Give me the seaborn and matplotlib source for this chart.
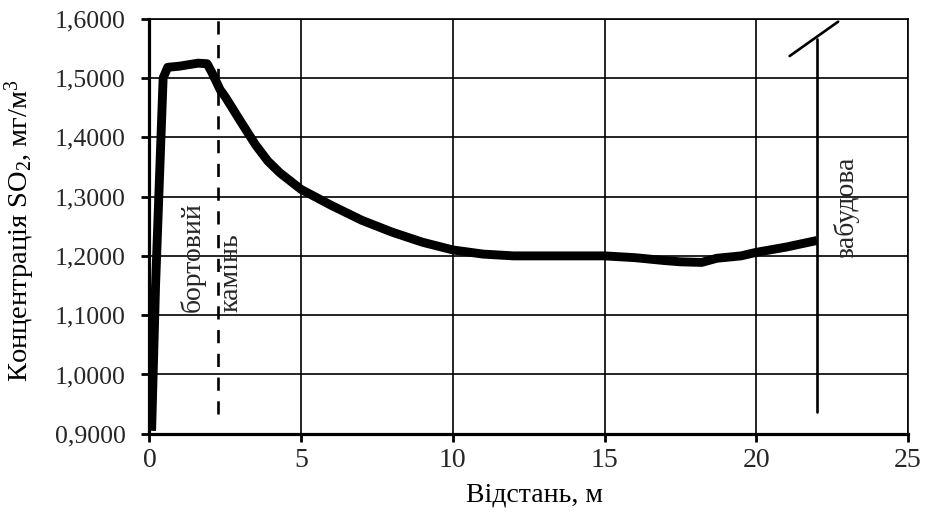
import matplotlib
matplotlib.use("Agg")
import matplotlib.pyplot as plt
from matplotlib.ticker import FuncFormatter
import seaborn as sns
import pandas as pd

# Distance from the road edge, m
distance = [0.07, 0.20, 0.45, 0.60, 1.00, 1.60, 1.90, 2.05, 2.33, 2.50,
            3.00, 3.50, 3.90, 4.30, 4.70, 5.00, 6.00, 7.00, 8.00, 9.00, 10.00,
            11.00, 12.00, 13.00, 14.00, 15.00, 16.00, 17.00, 17.50, 18.20,
            18.70, 19.50, 20.00, 21.00, 22.00]
# SO2 concentration, mg/m3
concentration = [0.905, 1.150, 1.500, 1.518, 1.520, 1.525, 1.524, 1.510,
                 1.480, 1.468, 1.427, 1.387, 1.360, 1.340, 1.324, 1.312, 1.285,
                 1.260, 1.240, 1.223, 1.210, 1.203, 1.200, 1.200, 1.200, 1.200,
                 1.197, 1.192, 1.190, 1.189, 1.196, 1.200, 1.206, 1.215, 1.226]

# Curb stone position and extent of the marker line
curb_x = 2.25
curb_y = [0.933, 1.6]
# Building line position, vertical extent and hatch stroke
building_x = 22.0
building_y = [0.936, 1.566]
hatch_x = [21.1, 22.7]
hatch_y = [1.537, 1.595]

x_ticks = [0, 5, 10, 15, 20, 25]
y_ticks = [0.9, 1.0, 1.1, 1.2, 1.3, 1.4, 1.5, 1.6]

sns.set_theme(style="white")
plt.rcParams["font.family"] = ["Liberation Serif", "DejaVu Serif"]
plt.rcParams["mathtext.fontset"] = "custom"
plt.rcParams["mathtext.rm"] = "Liberation Serif"
plt.rcParams["mathtext.it"] = "Liberation Serif:italic"

fig = plt.figure(figsize=(9.25, 5.22), dpi=100)
ax = fig.add_axes([0.1616, 0.169, 0.82, 0.7952])

df = pd.DataFrame({"x": distance, "y": concentration})
sns.lineplot(data=df, x="x", y="y", ax=ax, color="black", linewidth=6.4,
             sort=False, solid_joinstyle="round", solid_capstyle="butt",
             zorder=5)

# Curb stone (dashed) and building line
ax.plot([curb_x, curb_x], curb_y, color="black", linewidth=1.9,
        dashes=(5.0, 4.0), zorder=4)
ax.plot([building_x, building_x], building_y, color="black", linewidth=1.9,
        zorder=4)
ax.plot(hatch_x, hatch_y, color="black", linewidth=1.9, zorder=4,
        clip_on=False)

ax.text(1.44, 1.105, "бортовий", rotation=90, ha="center", va="bottom",
        fontsize=20, zorder=6)
ax.text(2.68, 1.105, "камінь", rotation=90, ha="center", va="bottom",
        fontsize=20, zorder=6)
ax.text(22.95, 1.196, "забудова", rotation=90, ha="center", va="bottom",
        fontsize=20, zorder=6)

ax.set_xlim(0, 25)
ax.set_ylim(0.9, 1.6)
ax.set_xticks(x_ticks)
ax.set_yticks(y_ticks)
ax.yaxis.set_major_formatter(
    FuncFormatter(lambda v, _: f"{v:.4f}".replace(".", ",")))
ax.xaxis.set_major_formatter(FuncFormatter(lambda v, _: f"{v:g}"))

ax.grid(True, color="black", linewidth=1.2)
ax.set_axisbelow(True)

for side in ("top", "right"):
    ax.spines[side].set_linewidth(1.2)
    ax.spines[side].set_color("black")
for side in ("left", "bottom"):
    ax.spines[side].set_linewidth(2.3)
    ax.spines[side].set_color("black")

ax.tick_params(axis="x", which="major", direction="out", length=6, width=2,
               color="black", labelsize=20, pad=4, bottom=True)
ax.tick_params(axis="y", which="major", direction="out", length=6, width=2,
               color="black", labelsize=18.5, pad=11, left=True)

ax.set_xlabel("Відстань, м", fontsize=20, color="black")
ax.set_ylabel(r"Концентрація SO$_{\mathregular{2}}$, мг/м$^{\mathregular{3}}$",
              fontsize=20.5, color="black")
ax.xaxis.set_label_coords(0.507, -0.118)
ax.yaxis.set_label_coords(-0.148, 0.49)

fig.savefig("out.png", dpi=100, facecolor="white")
